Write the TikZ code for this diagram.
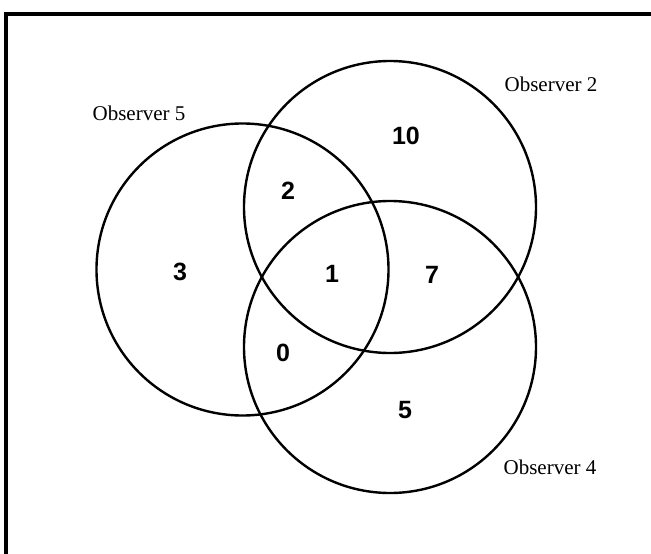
\documentclass[tikz,border=0pt]{standalone}
\usepackage{fontspec}
\setmainfont{Liberation Serif}
\newfontfamily\numfont{Liberation Sans}
\begin{document}
\begin{tikzpicture}[x=1pt,y=-1pt,
  ring/.style={draw, circle, line width=2.4pt, minimum size=292pt, inner sep=0pt},
  obs/.style={font=\fontsize{21}{24}\selectfont, inner sep=0pt},
  num/.style={font=\numfont\bfseries\fontsize{25}{28}\selectfont, inner sep=0pt},
  frame/.style={line width=4pt}]
\useasboundingbox (0,0) rectangle (651,554);
\coordinate (tr) at (651,14);
\coordinate (tl) at (6,14);
\coordinate (bl) at (6,554);
\draw[frame] (tr) -- (tl) -- (bl);
\node[ring] (c5) at (242.5,269.5) {};
\node[ring] (c2) at (390,207) {};
\node[ring] (c4) at (390,347) {};
\node[obs] (l5) at (139,113) {Observer 5};
\node[obs] (l2) at (551,84) {Observer 2};
\node[obs] (l4) at (550,467) {Observer 4};
\node[num] (n10) at (406,136) {10};
\node[num] (n2) at (288,191) {2};
\node[num] (n3) at (180,272) {3};
\node[num] (n1) at (332,274) {1};
\node[num] (n7) at (432,275) {7};
\node[num] (n0) at (283,353) {0};
\node[num] (n5) at (405,410) {5};
\end{tikzpicture}
\end{document}
